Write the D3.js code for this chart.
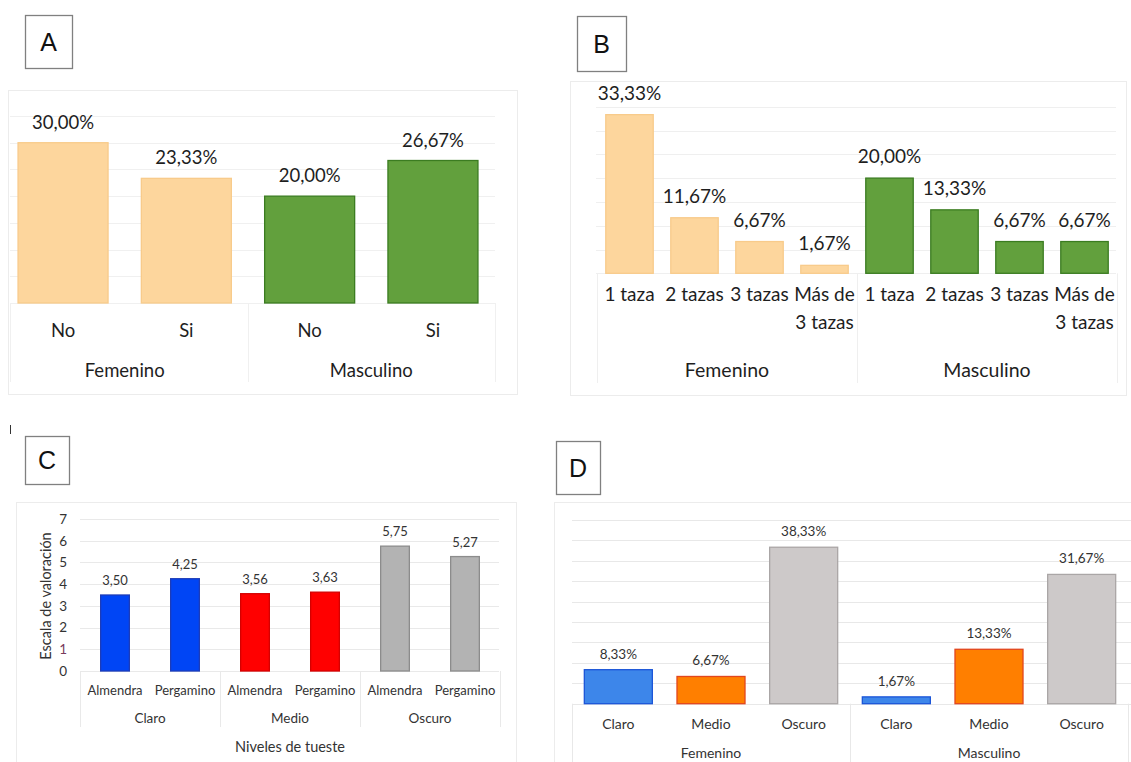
<!DOCTYPE html>
<html>
<head>
<meta charset="utf-8">
<script src="https://cdn.jsdelivr.net/npm/d3@7"></script>
<style>
body { margin: 0; background: #fff; }
svg { display: block; font-family: Lato, "Open Sans", sans-serif; }
</style>
</head>
<body>
<script>
// A: consume café, por sexo
var sexos = ["Femenino", "Masculino"];
var consumeCats = ["No", "Si"];
var consumeFem = [30.00, 23.33];
var consumeMasc = [20.00, 26.67];

// B: tazas al día, por sexo
var tazasCats = ["1 taza", "2 tazas", "3 tazas", "Más de 3 tazas"];
var tazasFem = [33.33, 11.67, 6.67, 1.67];
var tazasMasc = [20.00, 13.33, 6.67, 6.67];

// C: escala de valoración por nivel de tueste
var tuesteNiveles = ["Claro", "Medio", "Oscuro"];
var tipoGrano = ["Almendra", "Pergamino"];
var valAlmendra = [3.50, 3.56, 5.75];
var valPergamino = [4.25, 3.63, 5.27];
var escalaTicks = [0, 1, 2, 3, 4, 5, 6, 7];

// D: tueste preferido, por sexo
var tuesteFem = [8.33, 6.67, 38.33];
var tuesteMasc = [1.67, 13.33, 31.67];

var W = 1131, H = 762;
var es = d3.formatLocale({decimal: ",", thousands: ".", grouping: [3], currency: ["", " €"]});
var fmt2 = es.format(".2f");
var pct = function(v) { return fmt2(v) + "%"; };

var svg = d3.select("body").append("svg")
    .attr("width", W)
    .attr("height", H);

function frame(x, y, w, h) {
  svg.append("rect")
     .attr("x", x + 0.5).attr("y", y + 0.5)
     .attr("width", w).attr("height", h)
     .attr("fill", "none")
     .attr("stroke", "#ececec");
}

function letterBox(letter, x, y, w, h) {
  svg.append("rect")
     .attr("x", x + 0.5).attr("y", y + 0.5)
     .attr("width", w).attr("height", h)
     .attr("fill", "#fff")
     .attr("stroke", "#808080")
     .attr("stroke-width", 1.3);
  svg.append("text")
     .attr("x", x + w / 2)
     .attr("y", y + h / 2)
     .attr("dy", "0.36em")
     .attr("text-anchor", "middle")
     .attr("font-family", "'Liberation Sans', Arial, sans-serif")
     .attr("font-size", 25)
     .attr("fill", "#111")
     .text(letter);
}

// wrap a tick label into lines no wider than maxW
function wrapText(text, maxW, lineH) {
  text.each(function() {
    var t = d3.select(this);
    var words = t.text().split(" ");
    var x = t.attr("x");
    t.text(null);
    var line = [], tspan = t.append("tspan").attr("x", x).attr("dy", 0);
    words.forEach(function(w) {
      line.push(w);
      tspan.text(line.join(" "));
      if (tspan.node().getComputedTextLength() > maxW && line.length > 1) {
        line.pop();
        tspan.text(line.join(" "));
        line = [w];
        tspan = t.append("tspan").attr("x", x).attr("dy", lineH).text(w);
      }
    });
  });
}

function barPanel(o) {
  var keys = o.rows.map(function(d) { return d.key; });
  var x = d3.scaleBand()
            .domain(keys)
            .range(o.xRange)
            .paddingInner(o.pad)
            .paddingOuter(o.pad / 2);
  var y = d3.scaleLinear()
            .domain([0, o.max])
            .range([o.base, o.top]);
  var g = svg.append("g");

  // gridlines
  g.append("g").selectAll("line")
   .data(d3.range(0, o.max + 0.001, o.step))
   .enter().append("line")
   .attr("x1", o.gridX[0]).attr("x2", o.gridX[1])
   .attr("y1", function(d) { return Math.round(y(d)) + 0.5; })
   .attr("y2", function(d) { return Math.round(y(d)) + 0.5; })
   .attr("stroke", o.gridColor);

  // bars
  g.append("g").selectAll("rect")
   .data(o.rows)
   .enter().append("rect")
   .attr("x", function(d) { return x(d.key); })
   .attr("y", function(d) { return y(d.value); })
   .attr("width", x.bandwidth())
   .attr("height", function(d) { return y(0) - y(d.value); })
   .attr("fill", function(d) { return d.fill; })
   .attr("stroke", function(d) { return d.stroke; })
   .attr("stroke-width", 1.3);

  // value labels
  g.append("g").selectAll("text")
   .data(o.rows)
   .enter().append("text")
   .attr("x", function(d) { return x(d.key) + x.bandwidth() / 2; })
   .attr("y", function(d) { return y(d.value) - o.valueGap; })
   .attr("text-anchor", "middle")
   .attr("font-size", o.valueSize)
   .attr("fill", o.textColor)
   .text(function(d) { return o.fmt(d.value); });

  // category labels
  var cats = g.append("g").selectAll("text")
   .data(o.rows)
   .enter().append("text")
   .attr("x", function(d) { return x(d.key) + x.bandwidth() / 2; })
   .attr("y", o.catY)
   .attr("text-anchor", "middle")
   .attr("font-size", o.catSize)
   .attr("fill", o.textColor)
   .text(function(d) { return d.cat; });
  if (o.wrap) cats.call(wrapText, x.step(), o.wrap);

  // group labels and separators
  var groups = d3.groups(o.rows, function(d) { return d.group; });
  var half = (x.step() - x.bandwidth()) / 2;
  var edges = groups.map(function(gr) { return x(gr[1][0].key) - half; });
  edges.push(x(keys[keys.length - 1]) + x.bandwidth() + half);
  edges[0] = Math.max(edges[0], o.gridX[0]);

  g.append("g").selectAll("line")
   .data(edges)
   .enter().append("line")
   .attr("x1", function(d) { return Math.round(d) + 0.5; })
   .attr("x2", function(d) { return Math.round(d) + 0.5; })
   .attr("y1", o.base)
   .attr("y2", o.sepBottom)
   .attr("stroke", o.gridColor);

  g.append("g").selectAll("text")
   .data(groups)
   .enter().append("text")
   .attr("x", function(gr) {
      return d3.mean(gr[1], function(d) { return x(d.key) + x.bandwidth() / 2; });
   })
   .attr("y", o.groupY)
   .attr("text-anchor", "middle")
   .attr("font-size", o.groupSize)
   .attr("fill", o.textColor)
   .text(function(gr) { return gr[0]; });

  return {x: x, y: y, g: g};
}

function sexRows(cats, fem, masc, femCol, mascCol) {
  var rows = [];
  [fem, masc].forEach(function(vals, i) {
    cats.forEach(function(c, j) {
      var col = i === 0 ? femCol(j) : mascCol(j);
      rows.push({group: sexos[i], cat: c, key: sexos[i] + "|" + c,
                 value: vals[j], fill: col[0], stroke: col[1]});
    });
  });
  return rows;
}

var peach = ["#fdd69d", "#f8cb8b"];
var green = ["#62a03d", "#3b7c21"];

// ---------- A ----------
frame(8, 90, 509, 304);
letterBox("A", 25, 15, 47, 53);
barPanel({
  rows: sexRows(consumeCats, consumeFem, consumeMasc,
                function() { return peach; }, function() { return green; }),
  xRange: [1.4, 494.6], pad: 0.27,
  max: 35, step: 5, base: 303, top: 116,
  gridX: [10, 495], gridColor: "#f0f0f0",
  valueGap: 14, valueSize: 18.5,
  catY: 337, catSize: 18.5,
  groupY: 377, groupSize: 18.5, sepBottom: 382,
  textColor: "#1e1e1e", fmt: pct
});

// ---------- B ----------
frame(570, 81, 556, 314);
letterBox("B", 577, 16, 49, 55);
barPanel({
  rows: sexRows(tazasCats, tazasFem, tazasMasc,
                function() { return peach; }, function() { return green; }),
  xRange: [597, 1117], pad: 0.27,
  max: 35, step: 5, base: 273.3, top: 106.7,
  gridX: [596, 1116], gridColor: "#efefef",
  valueGap: 15, valueSize: 19,
  catY: 301, catSize: 19, wrap: 28,
  groupY: 377, groupSize: 19.5, sepBottom: 383,
  textColor: "#1e1e1e", fmt: pct
});

// ---------- C ----------
svg.append("line")
   .attr("x1", 10.5).attr("x2", 10.5)
   .attr("y1", 425).attr("y2", 434)
   .attr("stroke", "#333");
frame(16, 502, 500, 270);
letterBox("C", 25, 436, 44, 48);

var rowsC = [];
var colC = [["#0045f5", "#1d3cb8"], ["#ff0000", "#d40000"], ["#b3b3b3", "#8c8c8c"]];
tuesteNiveles.forEach(function(niv, i) {
  [valAlmendra, valPergamino].forEach(function(vals, j) {
    rowsC.push({group: niv, cat: tipoGrano[j], key: niv + "|" + tipoGrano[j],
                value: vals[i], fill: colC[i][0], stroke: colC[i][1]});
  });
});
var pc = barPanel({
  rows: rowsC,
  xRange: [80, 500], pad: 0.59,
  max: 7, step: 1, base: 671, top: 519,
  gridX: [80, 499], gridColor: "#e9e9e9",
  valueGap: 10, valueSize: 13,
  catY: 695, catSize: 13,
  groupY: 723, groupSize: 13.5, sepBottom: 727,
  textColor: "#333", fmt: fmt2
});

svg.append("g")
   .attr("transform", "translate(80,0)")
   .call(d3.axisLeft(pc.y).tickValues(escalaTicks).tickSize(0).tickPadding(13)
           .tickFormat(d3.format("d")))
   .call(function(a) { a.select(".domain").remove(); })
   .selectAll("text")
   .attr("font-family", "Lato, sans-serif")
   .attr("font-size", 13.5)
   .attr("fill", function(d) { return d === 1 ? "#7a3b5c" : "#333"; });

svg.append("text")
   .attr("transform", "translate(51,596) rotate(-90)")
   .attr("text-anchor", "middle")
   .attr("font-size", 14.5)
   .attr("fill", "#333")
   .text("Escala de valoración");

svg.append("text")
   .attr("x", 290).attr("y", 752)
   .attr("text-anchor", "middle")
   .attr("font-size", 14.5)
   .attr("fill", "#333")
   .text("Niveles de tueste");

// ---------- D ----------
frame(554, 502, 600, 270);
letterBox("D", 556, 441, 44, 53);
var colD = [["#3d86ea", "#1b55d8"], ["#ff7f00", "#e2461e"], ["#cdc9c9", "#aaa6a6"]];
barPanel({
  rows: sexRows(tuesteNiveles, tuesteFem, tuesteMasc,
                function(j) { return colD[j]; }, function(j) { return colD[j]; }),
  xRange: [572, 1128], pad: 0.266,
  max: 45, step: 5, base: 703.7, top: 520,
  gridX: [572, 1131], gridColor: "#e8e8e8",
  valueGap: 11, valueSize: 13.5,
  catY: 729, catSize: 14,
  groupY: 758, groupSize: 14, sepBottom: 763,
  textColor: "#333", fmt: pct
});
</script>
</body>
</html>
